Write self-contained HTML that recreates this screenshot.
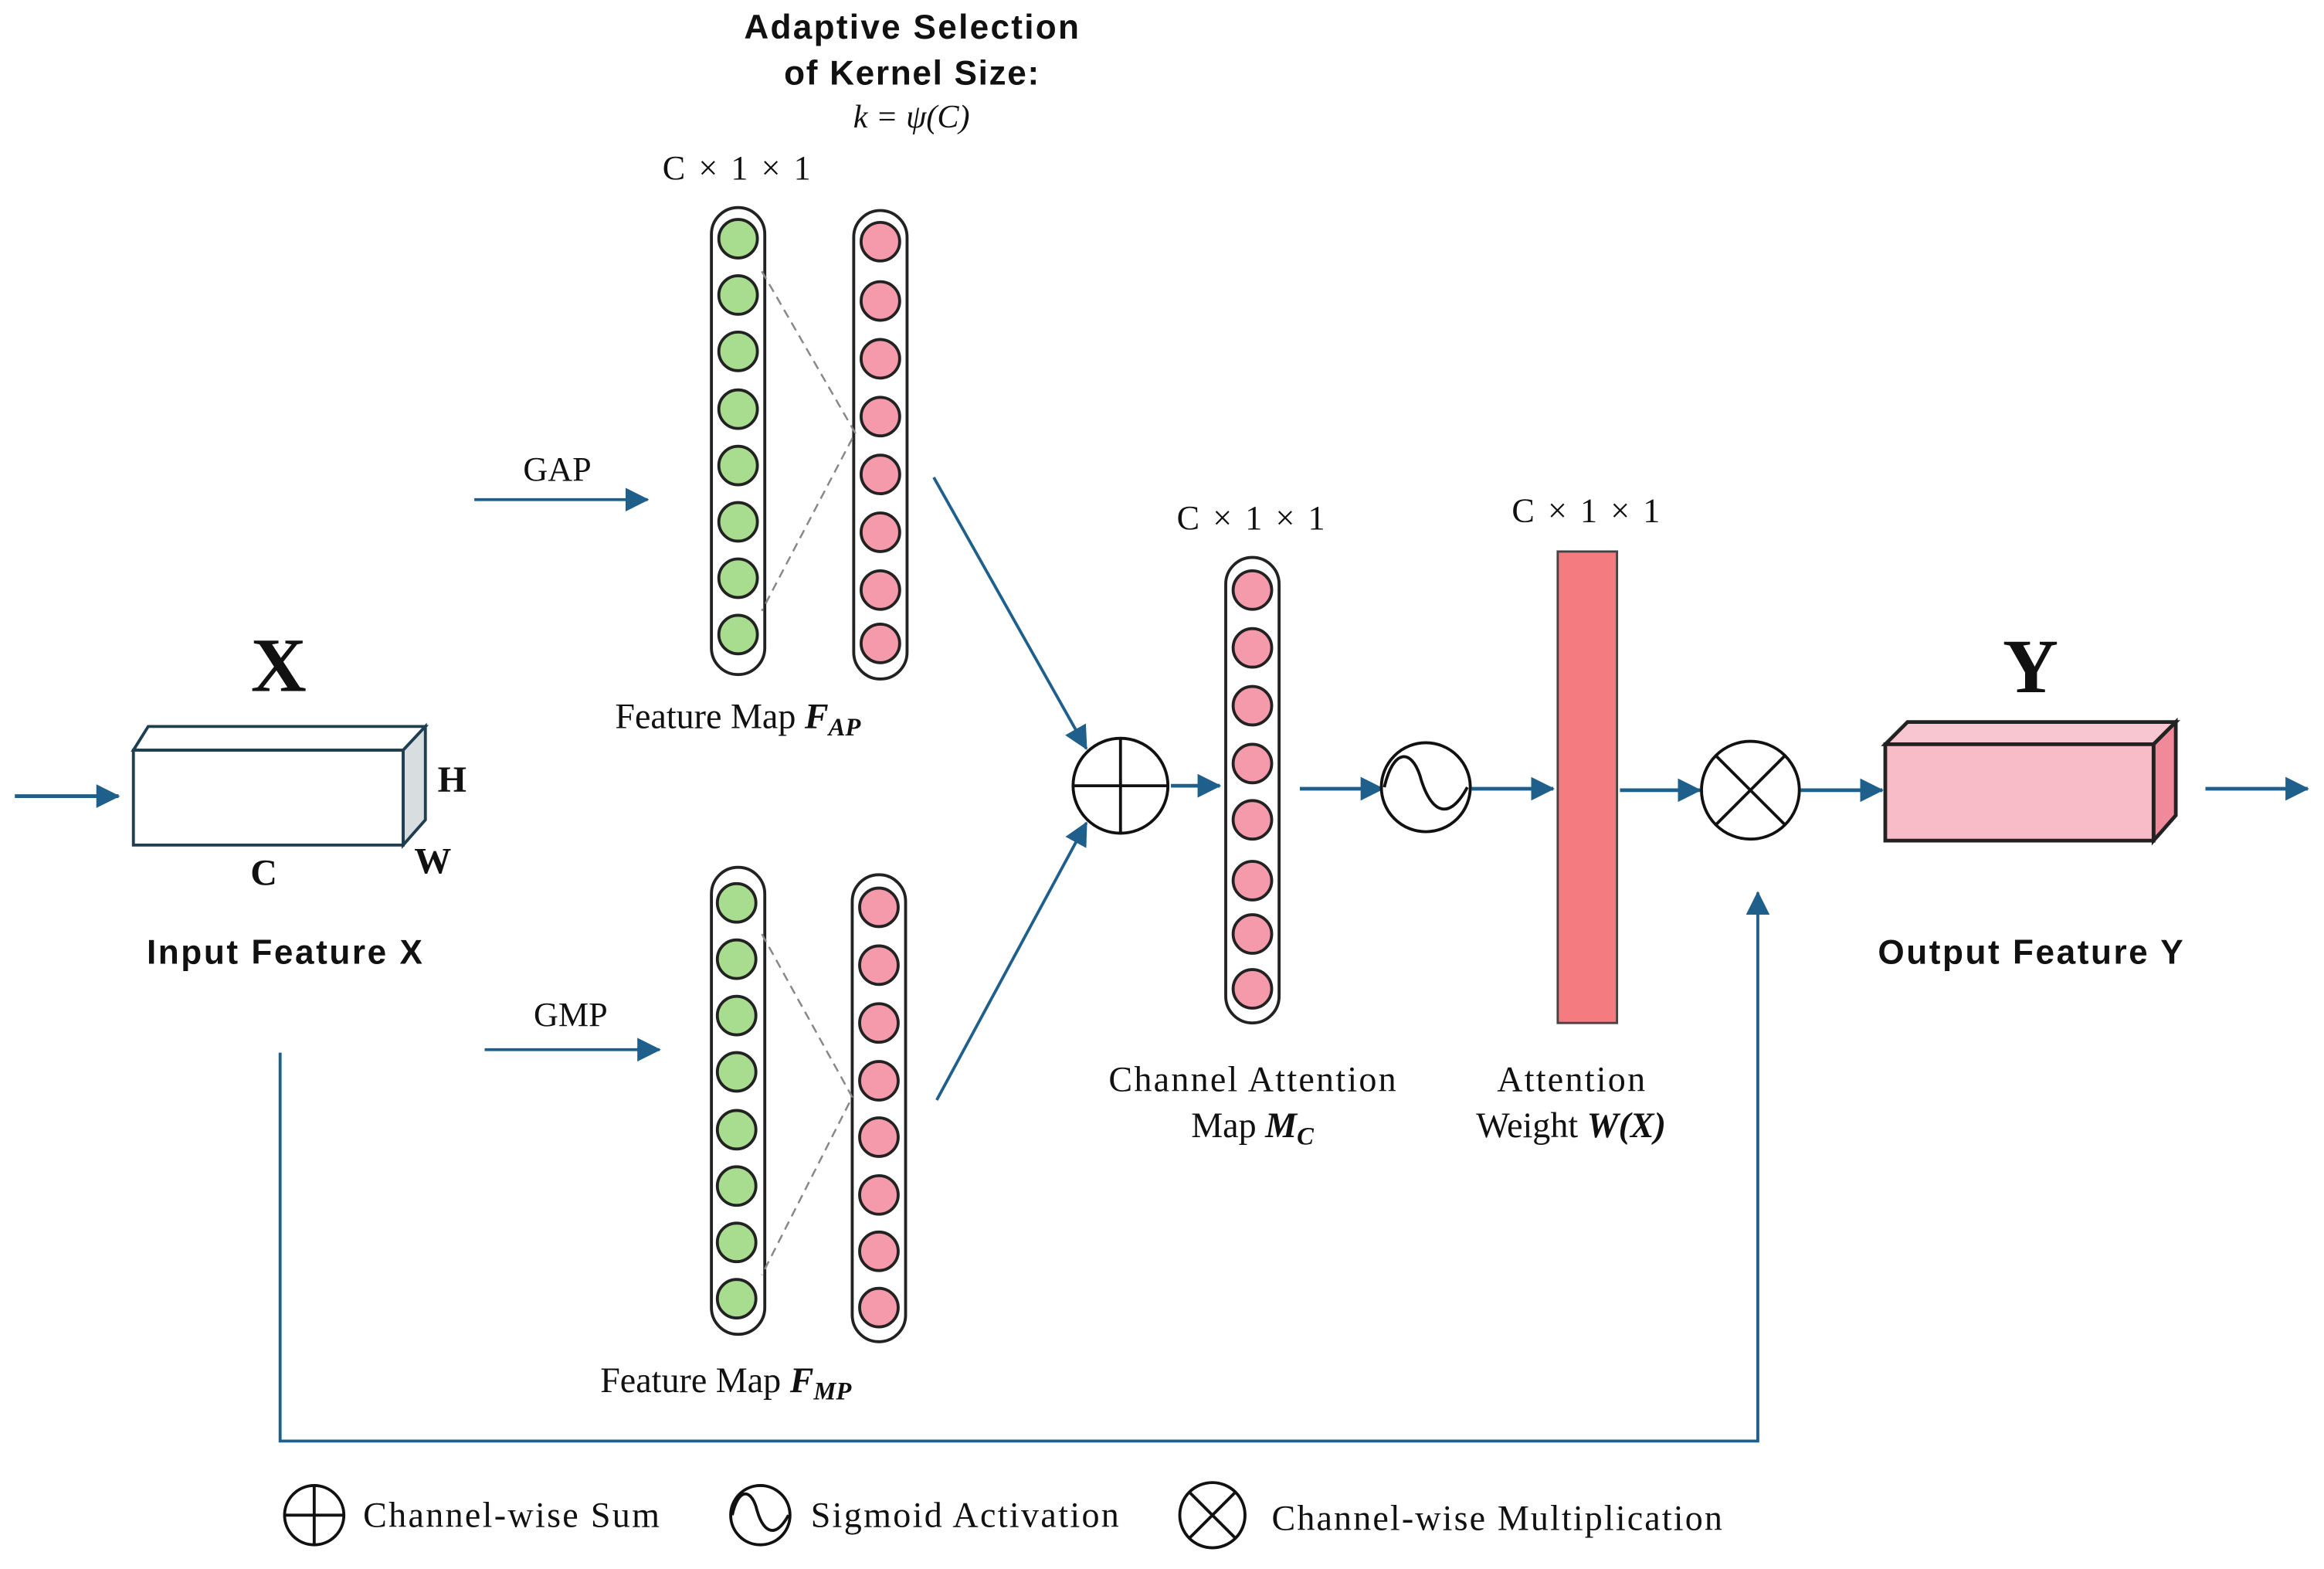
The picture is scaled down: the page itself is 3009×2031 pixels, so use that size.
<!DOCTYPE html>
<html><head><meta charset="utf-8">
<style>
html,body{margin:0;padding:0;background:#fff;}
svg{display:block;}
.s{font-family:"Liberation Serif",serif;fill:#111;}
.a{font-family:"Liberation Sans",sans-serif;font-weight:bold;fill:#111;}
</style></head>
<body>
<svg width="3009" height="2031" viewBox="0 0 1568 1058.3" preserveAspectRatio="none" xmlns="http://www.w3.org/2000/svg">
<defs>
<marker id="ahb" markerWidth="16" markerHeight="16" refX="15" refY="8" orient="auto" markerUnits="userSpaceOnUse" viewBox="0 0 16 16">
<path d="M0,0 L16,8 L0,16 z" fill="#1f5f8b"/>
</marker>
</defs>
<rect width="1568" height="1059" fill="#fff"/>

<!-- title -->
<text class="a" x="615" y="26" font-size="23" text-anchor="middle" textLength="226">Adaptive Selection</text>
<text class="a" x="615" y="57" font-size="23" text-anchor="middle" textLength="172">of Kernel Size:</text>
<text class="s" x="615" y="86" font-size="22" font-style="italic" text-anchor="middle">k = ψ(C)</text>
<text class="s" x="497" y="121" font-size="23" text-anchor="middle" textLength="100">C × 1 × 1</text>

<!-- Input -->
<g stroke="#1f3e4f" stroke-width="2">
<polygon points="90,506 100,490 287,490 272,506" fill="#fff"/>
<polygon points="272,506 287,490 287,553 272,570" fill="#d8dde0"/>
<rect x="90" y="506" width="182" height="64" fill="#fff"/>
</g>
<line x1="10" y1="537" x2="80" y2="537" stroke="#1f5f8b" stroke-width="2.5" marker-end="url(#ahb)"/>
<text class="s" x="188" y="466" font-size="52" font-weight="bold" text-anchor="middle">X</text>
<text class="s" x="305" y="534" font-size="25" font-weight="bold" text-anchor="middle">H</text>
<text class="s" x="292" y="589" font-size="25" font-weight="bold" text-anchor="middle">W</text>
<text class="s" x="178" y="597" font-size="25" font-weight="bold" text-anchor="middle">C</text>
<text class="a" x="192" y="650" font-size="23" text-anchor="middle" textLength="186">Input Feature X</text>

<!-- GAP -->
<text class="s" x="376" y="324" font-size="23" text-anchor="middle">GAP</text>
<line x1="320" y1="337" x2="437" y2="337" stroke="#1f5f8b" stroke-width="2" marker-end="url(#ahb)"/>
<text class="s" x="385" y="692" font-size="23" text-anchor="middle">GMP</text>
<line x1="327" y1="708" x2="445" y2="708" stroke="#1f5f8b" stroke-width="2" marker-end="url(#ahb)"/>

<g stroke="#222" stroke-width="2">
<rect x="480" y="140" width="36" height="315" rx="18" fill="#fff"/>
<rect x="576" y="142" width="36" height="316" rx="18" fill="#fff"/>
<rect x="480" y="585" width="36" height="315" rx="18" fill="#fff"/>
<rect x="575" y="590" width="36" height="315" rx="18" fill="#fff"/>
<rect x="827" y="376" width="36" height="314" rx="18" fill="#fff"/>
</g>
<g stroke="#888" stroke-width="1.3" stroke-dasharray="6,4" fill="none">
<polyline points="514,183 577,292 514,412"/>
<polyline points="514,630 575,740 514,860"/>
</g>
<g stroke="#222" stroke-width="2" fill="#a8dc8e">
<circle cx="498" cy="161" r="13"/><circle cx="498" cy="199" r="13"/><circle cx="498" cy="237" r="13"/><circle cx="498" cy="276" r="13"/><circle cx="498" cy="314" r="13"/><circle cx="498" cy="352" r="13"/><circle cx="498" cy="390" r="13"/><circle cx="498" cy="428" r="13"/>
<circle cx="497" cy="609" r="13"/><circle cx="497" cy="647" r="13"/><circle cx="497" cy="685" r="13"/><circle cx="497" cy="723" r="13"/><circle cx="497" cy="762" r="13"/><circle cx="497" cy="800" r="13"/><circle cx="497" cy="838" r="13"/><circle cx="497" cy="876" r="13"/>
</g>
<g stroke="#222" stroke-width="2" fill="#f49aaa">
<circle cx="594" cy="163" r="13"/><circle cx="594" cy="203" r="13"/><circle cx="594" cy="242" r="13"/><circle cx="594" cy="281" r="13"/><circle cx="594" cy="320" r="13"/><circle cx="594" cy="359" r="13"/><circle cx="594" cy="398" r="13"/><circle cx="594" cy="434" r="13"/>
<circle cx="593" cy="612" r="13"/><circle cx="593" cy="651" r="13"/><circle cx="593" cy="690" r="13"/><circle cx="593" cy="729" r="13"/><circle cx="593" cy="767" r="13"/><circle cx="593" cy="806" r="13"/><circle cx="593" cy="844" r="13"/><circle cx="593" cy="882" r="13"/>
<circle cx="845" cy="398" r="13"/><circle cx="845" cy="437" r="13"/><circle cx="845" cy="476" r="13"/><circle cx="845" cy="515" r="13"/><circle cx="845" cy="553" r="13"/><circle cx="845" cy="594" r="13"/><circle cx="845" cy="630" r="13"/><circle cx="845" cy="667" r="13"/>
</g>
<text class="s" x="415" y="491" font-size="24">Feature Map <tspan font-style="italic" font-weight="bold">F<tspan font-size="17" dy="5">AP</tspan></tspan></text>
<text class="s" x="405" y="939" font-size="24">Feature Map <tspan font-style="italic" font-weight="bold">F<tspan font-size="17" dy="5">MP</tspan></tspan></text>

<!-- arrows into sum -->
<line x1="630" y1="322" x2="733" y2="505" stroke="#1f5f8b" stroke-width="2" marker-end="url(#ahb)"/>
<line x1="632" y1="742" x2="733" y2="555" stroke="#1f5f8b" stroke-width="2" marker-end="url(#ahb)"/>

<!-- sum -->
<g stroke="#111" stroke-width="2" fill="#fff">
<circle cx="756" cy="530" r="32"/>
<line x1="724" y1="530" x2="788" y2="530"/><line x1="756" y1="498" x2="756" y2="562"/>
</g>
<line x1="790" y1="530" x2="823" y2="530" stroke="#1f5f8b" stroke-width="2.5" marker-end="url(#ahb)"/>
<text class="s" x="844" y="357" font-size="23" text-anchor="middle" textLength="100">C × 1 × 1</text>
<text class="s" x="845" y="736" font-size="24" text-anchor="middle" textLength="194">Channel Attention</text>
<text class="s" x="845" y="767" font-size="24" text-anchor="middle">Map <tspan font-style="italic" font-weight="bold">M<tspan font-size="17" dy="5">C</tspan></tspan></text>

<!-- sigmoid -->
<line x1="877" y1="532" x2="933" y2="532" stroke="#1f5f8b" stroke-width="2.5" marker-end="url(#ahb)"/>
<circle cx="962" cy="531" r="30" stroke="#111" stroke-width="2" fill="#fff"/>
<path d="M934,531 C940,505 952,505 958,523 C964,545 976,557 990,531" stroke="#111" stroke-width="2" fill="none"/>
<line x1="993" y1="532" x2="1048" y2="532" stroke="#1f5f8b" stroke-width="2.5" marker-end="url(#ahb)"/>

<!-- weight bar -->
<rect x="1051" y="372" width="40" height="318" fill="#f47c80" stroke="#444" stroke-width="1.5"/>
<text class="s" x="1070" y="352" font-size="23" text-anchor="middle" textLength="100">C × 1 × 1</text>
<text class="s" x="1060" y="736" font-size="24" text-anchor="middle" textLength="100">Attention</text>
<text class="s" x="1060" y="767" font-size="24" text-anchor="middle">Weight <tspan font-style="italic" font-weight="bold">W(X)</tspan></text>

<!-- mult -->
<line x1="1093" y1="533" x2="1147" y2="533" stroke="#1f5f8b" stroke-width="2.5" marker-end="url(#ahb)"/>
<g stroke="#111" stroke-width="2" fill="none">
<circle cx="1181" cy="533" r="33" fill="#fff"/>
<line x1="1158" y1="510" x2="1204" y2="556"/><line x1="1204" y1="510" x2="1158" y2="556"/>
</g>
<line x1="1215" y1="533" x2="1270" y2="533" stroke="#1f5f8b" stroke-width="2.5" marker-end="url(#ahb)"/>

<!-- output -->
<g stroke="#222" stroke-width="2.5">
<polygon points="1272,502 1287,487 1468,487 1453,502" fill="#f7c6d0"/>
<polygon points="1453,502 1468,487 1468,550 1453,567" fill="#f08a9a"/>
<rect x="1272" y="502" width="181" height="65" fill="#f7bcc7"/>
</g>
<text class="s" x="1370" y="467" font-size="52" font-weight="bold" text-anchor="middle">Y</text>
<text class="a" x="1370" y="650" font-size="23" text-anchor="middle" textLength="206">Output Feature Y</text>
<line x1="1488" y1="532" x2="1557" y2="532" stroke="#1f5f8b" stroke-width="2.5" marker-end="url(#ahb)"/>

<!-- skip -->
<polyline points="189,710 189,972 1186,972 1186,602" fill="none" stroke="#1f5f8b" stroke-width="2" marker-end="url(#ahb)"/>

<!-- legend -->
<g stroke="#111" stroke-width="2" fill="none">
<circle cx="212" cy="1022" r="20"/><line x1="192" y1="1022" x2="232" y2="1022"/><line x1="212" y1="1002" x2="212" y2="1042"/>
<circle cx="513" cy="1022" r="20"/><path d="M494,1022 C498,1004 506,1004 510,1016 C514,1032 522,1040 532,1022"/>
<circle cx="818" cy="1022" r="22"/><line x1="802" y1="1006" x2="834" y2="1038"/><line x1="834" y1="1006" x2="802" y2="1038"/>
</g>
<text class="s" x="245" y="1030" font-size="24" textLength="200">Channel-wise Sum</text>
<text class="s" x="547" y="1030" font-size="24" textLength="208">Sigmoid Activation</text>
<text class="s" x="858" y="1032" font-size="24" textLength="304">Channel-wise Multiplication</text>
</svg>
</body></html>
